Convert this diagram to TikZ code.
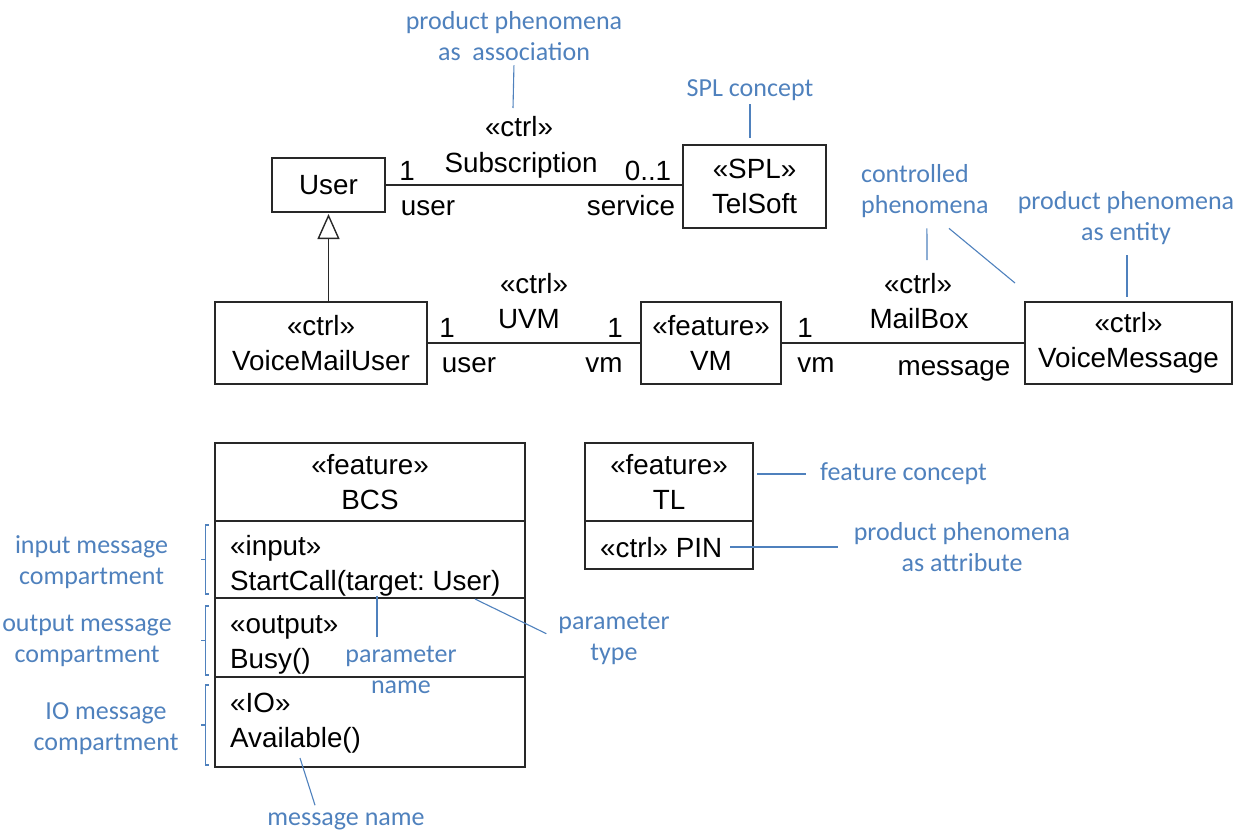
\documentclass[tikz,border=0pt]{standalone}
\usepackage{fontspec}
\setmainfont{Liberation Sans}
\newfontfamily\notefont{Carlito}
\usetikzlibrary{arrows.meta}
\frenchspacing

\definecolor{noteblue}{RGB}{79,129,189}
\definecolor{umlgray}{RGB}{40,40,40}

\tikzset{
    umlbox/.style   = {draw = umlgray, line width = 1.4pt, inner sep = 0pt, outer sep = 0pt, align = center},
    assoc/.style    = {draw = umlgray, line width = 1.4pt},
    lbl/.style      = {inner sep = 0pt, anchor = base},
    lblleft/.style  = {inner sep = 0pt, anchor = base west},
    note/.style     = {text = noteblue, font = \notefont\fontsize{26}{31}\selectfont, align = center, inner sep = 2pt},
    noteline/.style = {draw = noteblue, line width = 1.1pt},
}

\begin{document}
\begin{tikzpicture}[x = 1pt, y = -1pt, font = \fontsize{27.8}{35}\selectfont]

    \def\bcsw {310}
    \def\tlw  {168}

    \useasboundingbox (0, 0) rectangle (1247, 833);

    % classes
    \node [umlbox, minimum width = 113pt, minimum height = 54pt] (User)          at (328.5, 185)  {User};
    \node [umlbox, minimum width = 143pt, minimum height = 83pt] (TelSoft)       at (754.5, 186.5) {«SPL»\\TelSoft};
    \node [umlbox, minimum width = 212pt, minimum height = 82pt] (VoiceMailUser) at (321, 343)    {«ctrl»\\VoiceMailUser};
    \node [umlbox, minimum width = 140pt, minimum height = 82pt] (VM)            at (711, 343)    {«feature»\\VM};
    \node [umlbox, minimum width = 207pt, minimum height = 82pt] (VoiceMessage)  at (1128.5, 343) {«ctrl»\\VoiceMessage};

    % association Subscription
    \draw [assoc] (User.east) -- (User.east -| TelSoft.west);
    \node [lbl] (subOne)     at (407, 180) {1};
    \node [lbl] (subStereo)  at (519, 136) {«ctrl»};
    \node [lbl] (subName)    at (521, 172) {Subscription};
    \node [lbl] (subMult)    at (648, 180) {0..1};
    \node [lbl] (subUser)    at (428, 215) {user};
    \node [lbl] (subService) at (631, 215) {service};

    % generalization
    \draw [assoc, -{Triangle[open, length = 25pt, width = 22pt]}, shorten >= 2pt]
        (User.south |- VoiceMailUser.north) -- (User.south);

    % association UVM
    \draw [assoc] (VoiceMailUser) -- (VM);
    \node [lbl] (uvmOne)    at (447, 337) {1};
    \node [lbl] (uvmStereo) at (534, 293) {«ctrl»};
    \node [lbl] (uvmName)   at (529, 328) {UVM};
    \node [lbl] (uvmOneVm)  at (615, 337) {1};
    \node [lbl] (uvmUser)   at (469, 372) {user};
    \node [lbl] (uvmVm)     at (604, 372) {vm};

    % association MailBox
    \draw [assoc] (VM) -- (VoiceMessage);
    \node [lbl] (mbOne)     at (805, 337) {1};
    \node [lbl] (mbStereo)  at (918, 293) {«ctrl»};
    \node [lbl] (mbName)    at (919, 328) {MailBox};
    \node [lbl] (mbVm)      at (816, 372) {vm};
    \node [lbl] (mbMessage) at (954, 375) {message};

    % feature BCS with message compartments
    \node [umlbox, minimum width = \bcsw pt, minimum height = 78pt] (BCS) at (370, 482) {«feature»\\BCS};
    \node [umlbox, minimum width = \bcsw pt, minimum height = 77pt, anchor = north] (BCSin)  at (BCS.south)    {};
    \node [umlbox, minimum width = \bcsw pt, minimum height = 79pt, anchor = north] (BCSout) at (BCSin.south)  {};
    \node [umlbox, minimum width = \bcsw pt, minimum height = 90pt, anchor = north] (BCSio)  at (BCSout.south) {};
    \node [lblleft] (inStereo)  at (230, 555) {«input»};
    \node [lblleft] (inMsg)     at (230, 590) {StartCall(target: User)};
    \node [lblleft] (outStereo) at (230, 633) {«output»};
    \node [lblleft] (outMsg)    at (230, 668) {Busy()};
    \node [lblleft] (ioStereo)  at (230, 712) {«IO»};
    \node [lblleft] (ioMsg)     at (230, 747) {Available()};

    % feature TL
    \node [umlbox, minimum width = \tlw pt, minimum height = 78pt] (TL) at (669, 482) {«feature»\\TL};
    \node [umlbox, minimum width = \tlw pt, minimum height = 48pt, anchor = north] (TLattr) at (TL.south) {};
    \node [lblleft] (PIN) at (600, 557) {«ctrl» PIN};

    % compartment brackets
    \foreach \ya/\yb in {525/594, 606/675, 685/765}
        \draw [noteline] (209, \ya) -- (205.5, \ya) -- (205.5, \yb) -- (209, \yb)
                         (205.5, {(\ya + \yb) / 2}) -- (201, {(\ya + \yb) / 2});

    % notes
    \node [note] (assocNote) at (514, 36.5) {product phenomena\\as\ \ association};
    \coordinate (assocTip) at (513, 108);
    \draw [noteline, shorten <= 2pt] (assocNote.south) -- (assocTip);

    \node [note, anchor = base] (splNote) at (750, 96) {SPL concept};
    \coordinate (splTip) at (750, 138);
    \draw [noteline, shorten <= 2pt] (splNote.south) -- (splTip);

    \node [note, anchor = west, align = left] (ctrlNote) at (859, 191.5) {controlled\\phenomena};
    \coordinate (ctrlTip)      at (927, 260);
    \coordinate (msgEntityTip) at (1015, 283);
    \draw [noteline] (ctrlNote.south) ++(2, 8) -- (ctrlTip);
    \draw [noteline] (ctrlNote.south) ++(24, 8) -- (msgEntityTip);

    \node [note] (entityNote) at (1126, 218.5) {product phenomena\\as entity};
    \coordinate (entityTip) at (1127, 297);
    \draw [noteline] (entityNote.south) ++(1, 8) -- (entityTip);

    \node [note, anchor = west] (featNote) at (818, 474) {feature concept};
    \draw [noteline, shorten >= 12pt] (TL.east |- featNote.west) ++(4, 0) -- (featNote.west);

    \node [note] (attrNote) at (962, 547) {product phenomena\\as attribute};
    \draw [noteline, shorten >= 14pt] (PIN.east |- attrNote.west) ++(8, 0) -- (attrNote.west);

    \node [note] (inNote)  at (91.5, 562.5) {input message\\compartment};
    \node [note] (outNote) at (87, 641)     {output message\\compartment};
    \node [note] (ioNote)  at (106, 728.5)  {IO message\\compartment};

    \node [note] (nameNote) at (401, 669.5) {parameter\\name};
    \coordinate (nameTip) at (377, 596);
    \draw [noteline] (nameNote.north) ++(-24, -6) -- (nameTip);

    \node [note] (typeNote) at (614, 638.5) {parameter\\type};
    \coordinate (typeTip) at (475, 599);
    \draw [noteline, shorten >= 11pt] (typeTip) -- (typeNote.west);

    \node [note, anchor = base] (msgNote) at (346, 825) {message name};
    \coordinate (msgTip) at (300, 758);
    \draw [noteline] (msgNote.north) ++(-31, -5) -- (msgTip);

\end{tikzpicture}
\end{document}
